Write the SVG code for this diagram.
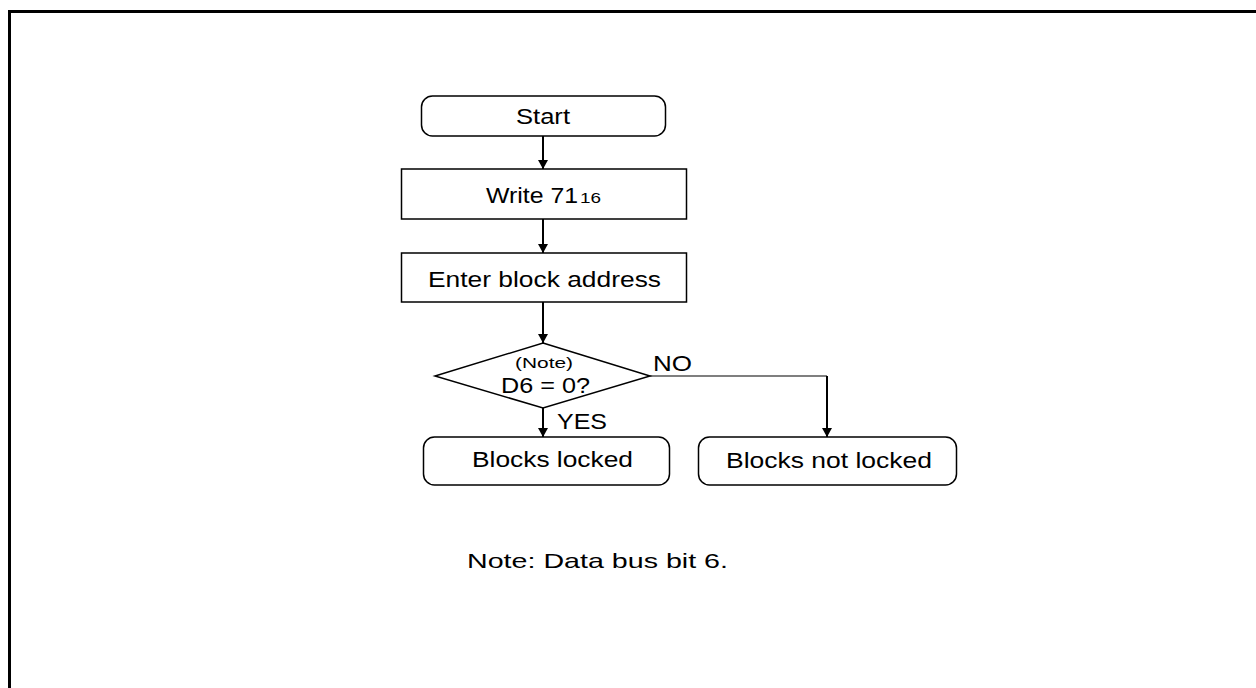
<svg xmlns="http://www.w3.org/2000/svg" width="1256" height="688" viewBox="0 0 1256 688">
<style>
.box{fill:#fff;stroke:#000;stroke-width:1.5}
.t{font-family:"Liberation Sans",Arial,sans-serif;font-size:22px;fill:#000}
.s{font-family:"Liberation Sans",Arial,sans-serif;font-size:15px;fill:#000}
.c{fill:none;stroke:#000;stroke-width:2}
.thin{fill:none;stroke:#000;stroke-width:1.2}
</style>
<defs>
<marker id="ah" viewBox="0 0 9 10" refX="9" refY="5" markerWidth="9" markerHeight="10" markerUnits="userSpaceOnUse" orient="auto">
<path d="M0,0 L9,5 L0,10 Z" fill="#000"/>
</marker>
</defs>
<rect width="1256" height="688" fill="#fff"/>
<path d="M9.5,688 V11.5 H1256" fill="none" stroke="#000" stroke-width="3"/>
<g id="connectors">
<line class="c" x1="543" y1="136" x2="543" y2="169" marker-end="url(#ah)"/>
<line class="c" x1="543" y1="219" x2="543" y2="253" marker-end="url(#ah)"/>
<line class="c" x1="543" y1="302" x2="543" y2="343" marker-end="url(#ah)"/>
<line class="c" x1="543" y1="408" x2="543" y2="437" marker-end="url(#ah)"/>
<path class="thin" d="M650,376 H827"/>
<line class="c" x1="827" y1="376" x2="827" y2="437" marker-end="url(#ah)"/>
<text class="t" x="653" y="371" textLength="39" lengthAdjust="spacingAndGlyphs">NO</text>
<text class="t" x="557" y="429" textLength="50" lengthAdjust="spacingAndGlyphs">YES</text>
</g>
<g id="start">
<rect class="box" x="421.5" y="96" width="244" height="40" rx="11"/>
<text class="t" x="516" y="124" textLength="54" lengthAdjust="spacingAndGlyphs">Start</text>
</g>
<g id="write">
<rect class="box" x="401.5" y="169" width="285" height="50"/>
<text class="t" x="486" y="203" textLength="92" lengthAdjust="spacingAndGlyphs">Write 71</text>
<text class="s" x="580" y="203" textLength="21" lengthAdjust="spacingAndGlyphs">16</text>
</g>
<g id="enter">
<rect class="box" x="401.5" y="253" width="285" height="49"/>
<text class="t" x="428" y="287" textLength="233" lengthAdjust="spacingAndGlyphs">Enter block address</text>
</g>
<g id="decision">
<polygon class="box" points="543,343 650,376 543,408 435,376"/>
<text class="s" x="515" y="368" textLength="58" lengthAdjust="spacingAndGlyphs">(Note)</text>
<text class="t" x="501" y="393" textLength="89" lengthAdjust="spacingAndGlyphs">D6 = 0?</text>
</g>
<g id="locked">
<rect class="box" x="423.5" y="437" width="246" height="48" rx="11"/>
<text class="t" x="472" y="467" textLength="161" lengthAdjust="spacingAndGlyphs">Blocks locked</text>
</g>
<g id="notlocked">
<rect class="box" x="698.5" y="437" width="258" height="48" rx="11"/>
<text class="t" x="726" y="468" textLength="206" lengthAdjust="spacingAndGlyphs">Blocks not locked</text>
</g>
<g id="note">
<text class="t" x="467" y="568" textLength="261" lengthAdjust="spacingAndGlyphs" style="font-size:21px">Note: Data bus bit 6.</text>
</g>
</svg>
